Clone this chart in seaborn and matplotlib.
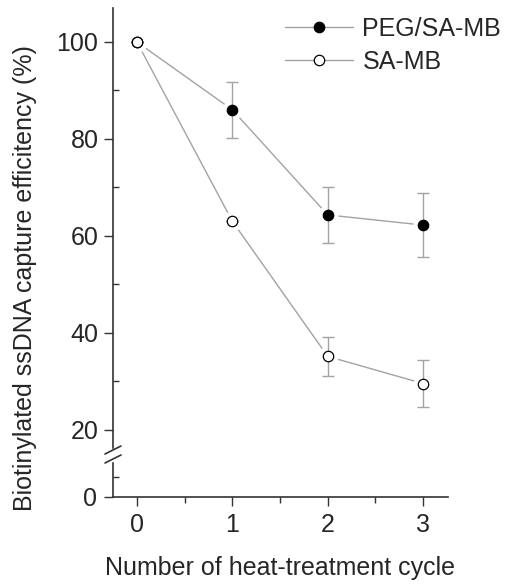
import numpy as np
import pandas as pd
import seaborn as sns
import matplotlib.pyplot as plt
from matplotlib.lines import Line2D
from matplotlib.ticker import MultipleLocator

# data
cycles = [0, 1, 2, 3]
peg_sa_mb = [100, 86.0, 64.3, 62.2]
peg_sa_mb_err = [0, 5.8, 5.8, 6.6]
sa_mb = [100, 63.0, 35.1, 29.5]
sa_mb_err = [0, 0, 4.0, 4.8]
series_names = ["PEG/SA-MB", "SA-MB"]

sns.set_style("ticks")
plt.rcParams['font.family'] = ['Liberation Sans', 'DejaVu Sans']

W, H = 513, 586
fig = plt.figure(figsize=(W / 100, H / 100), dpi=100)

def fig_box(left, top, right, bottom):
    # pixel box -> figure fraction [l, b, w, h]
    return [left / W, 1 - bottom / H, (right - left) / W, (bottom - top) / H]

ax_top = fig.add_axes(fig_box(113, 8, 448, 448))
ax_bot = fig.add_axes(fig_box(113, 463, 448, 497), sharex=ax_top)

line_col = "#a3a3a3"
text_col = "#262626"
fs = 18
ms = 7.5

df = pd.DataFrame({
    "cycle": cycles * 2,
    "eff": peg_sa_mb + sa_mb,
    "err": peg_sa_mb_err + sa_mb_err,
    "sample": [series_names[0]] * 4 + [series_names[1]] * 4,
})

faces = {"PEG/SA-MB": "black", "SA-MB": "white"}
for name in series_names:
    sub = df[df["sample"] == name]
    sns.lineplot(data=sub, x="cycle", y="eff", ax=ax_top, color=line_col, lw=1.0,
                 legend=False, zorder=1)
for name in series_names:
    sub = df[df["sample"] == name]
    # white halo leaves a small gap between line and marker
    ax_top.plot(sub["cycle"], sub["eff"], ls="none", marker="o", ms=ms + 6,
                mfc="white", mec="white", zorder=2)
for name in series_names:
    sub = df[df["sample"] == name]
    ax_top.errorbar(sub["cycle"], sub["eff"], yerr=sub["err"], fmt="none",
                    ecolor=line_col, elinewidth=1.0, capsize=4, capthick=1.0, zorder=3)
    ax_top.plot(sub["cycle"], sub["eff"], ls="none", marker="o", ms=ms,
                mfc=faces[name], mec="black", mew=0.9, zorder=4)

ax_top.set_ylim(16.2, 107)
ax_top.set_xlim(-0.25, 3.26)
ax_top.set_yticks([20, 40, 60, 80, 100])
ax_top.yaxis.set_minor_locator(MultipleLocator(10))
for s in ["top", "right", "bottom"]:
    ax_top.spines[s].set_visible(False)
ax_top.tick_params(axis="x", which="both", bottom=False, labelbottom=False)
ax_top.tick_params(axis="y", which="major", direction="out", length=6.5, width=1, pad=4,
                   labelsize=fs, labelcolor=text_col)
ax_top.tick_params(axis="y", which="minor", direction="in", length=4, width=1)
ax_top.set_xlabel("")
ax_top.set_ylabel("")

ax_bot.set_ylim(0, 8.5)
ax_bot.set_yticks([0])
ax_bot.yaxis.set_minor_locator(MultipleLocator(5))
ax_bot.set_xticks(cycles)
ax_bot.xaxis.set_minor_locator(MultipleLocator(0.5))
for s in ["top", "right"]:
    ax_bot.spines[s].set_visible(False)
ax_bot.tick_params(axis="both", which="major", direction="out", length=6.5, width=1, pad=5,
                   labelsize=fs, labelcolor=text_col)
ax_bot.tick_params(axis="y", which="minor", direction="in", length=4, width=1)
ax_bot.tick_params(axis="x", which="minor", direction="out", length=4, width=1)
ax_bot.set_ylabel("")
ax_bot.set_xlabel("")

for a in (ax_top, ax_bot):
    for s in ["left", "bottom"]:
        a.spines[s].set_color("#333333")
        a.spines[s].set_linewidth(1.2)
    a.tick_params(which="both", color="#333333")

# axis break marks
for yc in (450, 459):
    fig.add_artist(Line2D([105 / W, 121 / W], [1 - (yc + 4) / H, 1 - (yc - 4) / H],
                          color="#333333", lw=1.2))

fig.text(280 / W, 1 - 568 / H, "Number of heat-treatment cycle", ha="center", va="center",
         fontsize=fs, color=text_col)
fig.text(25 / W, 1 - 278 / H, "Biotinylated ssDNA capture efficitency (%)", ha="center", va="center",
         rotation=90, fontsize=fs, color=text_col)

handles = [
    Line2D([], [], color=line_col, lw=1.0, marker="o", ms=ms, mfc=faces[n], mec="black", mew=0.9)
    for n in series_names
]
leg = fig.legend(handles, series_names, loc="upper left", bbox_to_anchor=(285 / W, 1 - 17 / H),
                 frameon=False, fontsize=fs, handlelength=2.7, handletextpad=0.4,
                 labelspacing=0.35, borderpad=0, borderaxespad=0)
for t in leg.get_texts():
    t.set_color(text_col)

fig.savefig("out.png", dpi=100)
